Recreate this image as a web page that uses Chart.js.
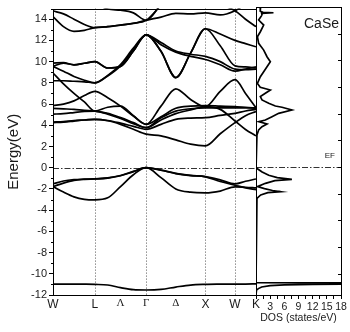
<!DOCTYPE html>
<html>
<head>
<meta charset="utf-8">
<script src="https://cdn.jsdelivr.net/npm/chart.js@4"></script>
<style>
html, body { margin: 0; padding: 0; background: #fff; }
#wrap { position: relative; width: 350px; height: 332px; }
#wrap canvas { position: absolute; left: 0; top: 0; }
</style>
</head>
<body>
<div id="wrap">
  <canvas id="bands" width="350" height="332"></canvas>
  <canvas id="dos" width="350" height="332"></canvas>
</div>
<script>
/* ─── k-path: W-L-Γ-X-W-K (path length, 2π/a) ─── */
const KPOS = [0, 0.177, 0.354, 0.530, 0.707, 0.924, 1.140, 1.357, 1.573,
              1.823, 2.073, 2.323, 2.573, 2.823, 3.073, 3.250, 3.427];
const SYM_POS = [0, 0.707, 1.140, 1.573, 2.073, 2.573, 3.073, 3.427];
const SYM_LABELS = ['W', 'L', 'Λ', 'Γ', 'Δ', 'X', 'W', 'K'];
const DOTTED_AT = [0.707, 1.573, 2.573, 3.073];

/* ─── bands (eV) at KPOS ─── */
const SE_S = [-10.97, -10.97, -10.97, -10.98, -11.0, -11.06, -11.31, -11.5, -11.53, -11.47, -11.25, -11.06, -11.0, -10.98, -10.97, -10.97, -10.95];
const VB1 = [-1.53, -1.25, -1.12, -1.08, -1.06, -0.96, -0.73, -0.35, 0, -0.22, -0.53, -0.72, -0.84, -1.15, -1.53, -1.28, -1.06];
const VB2 = [-1.78, -1.45, -1.2, -1.1, -1.06, -0.98, -0.76, -0.37, 0, -0.24, -0.55, -0.74, -0.86, -1.3, -1.65, -1.9, -2.07];
const VB3 = [-1.78, -2.3, -2.75, -2.98, -3.03, -2.84, -1.78, -0.66, 0, -0.94, -2.0, -2.31, -2.37, -2.2, -1.8, -1.84, -1.9];
const CB1 = [4.25, 4.3, 4.4, 4.5, 4.56, 4.43, 4.09, 3.62, 3.16, 3.0, 2.62, 2.22, 2.06, 3.2, 4.25, 4.9, 5.3];
const CB2 = [4.3, 4.35, 4.45, 4.5, 4.56, 4.45, 4.2, 3.9, 3.62, 4.09, 4.56, 4.68, 4.72, 4.93, 5.12, 5.35, 5.5];
const CB3 = [5.6, 5.55, 5.5, 5.4, 5.34, 5.12, 4.72, 4.25, 3.78, 4.71, 5.34, 5.56, 5.65, 5.65, 5.65, 5.65, 5.65];
const CB4 = [5.05, 5.1, 5.2, 5.3, 5.34, 5.05, 4.65, 4.15, 3.78, 4.5, 5.1, 5.45, 5.75, 5.5, 4.4, 3.6, 3.0];
const CB5 = [5.85, 6.0, 6.3, 6.8, 7.2, 6.6, 5.81, 4.87, 4.09, 5.81, 7.44, 6.44, 5.75, 7.2, 8.3, 7.0, 5.65];
const CB6 = [8.93, 7.9, 7.0, 6.2, 5.34, 5.7, 5.8, 4.9, 4.09, 4.8, 5.6, 5.8, 5.85, 5.8, 5.75, 5.7, 5.6];
const UP1 = [9.86, 9.9, 9.7, 9.85, 10.0, 9.4, 9.55, 11.0, 12.53, 10.97, 8.5, 10.8, 13.1, 11.5, 9.6, 9.5, 9.4];
const UP2 = [9.56, 9.1, 8.6, 8.25, 8.0, 8.7, 9.72, 11.27, 12.53, 11.8, 11.0, 10.7, 10.5, 10.0, 9.3, 9.25, 9.3];
const UP3 = [8.2, 8.2, 8.15, 8.1, 8.0, 8.65, 9.6, 11.15, 12.53, 11.6, 10.9, 10.5, 10.2, 9.7, 9.1, 9.3, 9.5];
const UP4 = [9.56, 9.85, 9.7, 9.85, 10.0, 9.4, 9.55, 11.0, 12.53, 10.97, 8.5, 10.8, 13.1, 12.6, 12.0, 11.7, 11.4];
const TOP1 = [14.78, 14.5, 14.0, 13.5, 13.2, 13.3, 13.45, 13.6, 13.9, 14.2, 14.55, 14.5, 14.6, 14.4, 14.8, 15.4, 15.9];
const TOP2 = [14.25, 13.3, 12.85, 12.95, 13.2, 13.3, 13.45, 13.62, 13.9, 15.3, 16.5, 16.5, 16.0, 15.4, 14.8, 14.0, 13.3];
const TOP3 = [16.8, 16.5, 16.2, 15.8, 15.5, 14.96, 14.85, 14.6, 13.9, 15.4, 16.8, 17, 16.6, 16.2, 16, 16, 16];
const BANDS = [SE_S, VB1, VB2, VB3, CB1, CB2, CB3, CB4, CB5, CB6, UP1, UP2, UP3, UP4, TOP1, TOP2, TOP3];

/* ─── DOS (states/eV) vs energy ─── */
const DOS_E = [15.2, 14.6, 14.5, 14.46, 14.4, 14.24, 13.78, 13.31, 12.68, 12.21, 11.59, 10.96, 10.34, 9.87, 9.4, 8.93,
               8.46, 7.84, 7.47, 7.22, 6.91, 6.6, 6.29, 5.97, 5.72, 5.6, 5.34, 5.03, 4.72, 4.4, 4.25, 4.03, 3.78, 3.47,
               3.0, 2.53, 2.06, 1.9, -0.05, -0.16, -0.47, -0.78, -1.0, -1.16, -1.28, -1.53, -1.84, -2.03, -2.2, -2.31,
               -2.4, -2.62, -2.94, -3.1, -10.85, -10.9, -10.97, -11.0, -11.05, -11.12, -11.25, -11.4, -11.55, -11.6, -12];
const DOS_V = [1.0, 0.9, 1.5, 3.7, 1.2, 1.27, 0.56, 1.63, 0.92, 0.3, 0.56, 1.63, 2.33, 3.04, 2.33, 1.63,
               0.92, 0.3, 0.9, 3.04, 1.98, 0.92, 1.27, 2.69, 4.1, 5.5, 7.6, 4.8, 3.39, 1.98, 0.56, 2.33, 1.27, 0.56,
               0.2, 0.05, 0, 0, 0, 0.3, 1.3, 2.7, 4.5, 7.6, 4.0, 2.0, 0.3, 1.8, 3.5, 5.2,
               2.5, 1.0, 0.2, 0, 0, 40, 40, 12, 6, 3, 1.2, 0.5, 0.1, 0, 0];

const FONT = 'Arial, "Liberation Sans", Helvetica, sans-serif';
const TXT = '#1a1a1a';

/* 邊框 */
function frame(ctx, a) {
    ctx.save();
    ctx.strokeStyle = '#000';
    ctx.lineWidth = 1;
    ctx.setLineDash([]);
    ctx.strokeRect(Math.round(a.left) + 0.5, Math.round(a.top) + 0.5,
                   Math.round(a.right - a.left), Math.round(a.bottom - a.top));
    ctx.restore();
}

/* E_F 點劃線 */
function fermiLine(ctx, a, y) {
    const py = Math.round(y.getPixelForValue(0)) + 0.5;
    ctx.save();
    ctx.strokeStyle = '#333';
    ctx.lineWidth = 1;
    ctx.setLineDash([6, 2, 1.5, 2]);
    ctx.beginPath(); ctx.moveTo(a.left, py); ctx.lineTo(a.right, py); ctx.stroke();
    ctx.restore();
}

const bandDecor = {
    id: 'bandDecor',
    beforeDatasetsDraw(chart) {
        const { ctx, chartArea: a, scales: { x, y } } = chart;
        ctx.save();
        ctx.strokeStyle = '#555';
        ctx.lineWidth = 1;
        ctx.setLineDash([1, 2]);
        DOTTED_AT.forEach(k => {
            const px = Math.round(x.getPixelForValue(k)) + 0.5;
            ctx.beginPath(); ctx.moveTo(px, a.top); ctx.lineTo(px, a.bottom); ctx.stroke();
        });
        ctx.restore();
        fermiLine(ctx, a, y);
    },
    afterDraw(chart) {
        const { ctx, chartArea: a, scales: { y } } = chart;
        frame(ctx, a);
        /* minor ticks */
        ctx.save();
        ctx.strokeStyle = '#000';
        ctx.lineWidth = 1;
        for (let v = -11; v <= 15; v += 2) {
            const py = Math.round(y.getPixelForValue(v)) + 0.5;
            ctx.beginPath(); ctx.moveTo(a.left - 2, py); ctx.lineTo(a.left, py); ctx.stroke();
        }
        ctx.restore();
    },
};

const dosDecor = {
    id: 'dosDecor',
    beforeDatasetsDraw(chart) {
        const { ctx, chartArea: a, scales: { y } } = chart;
        fermiLine(ctx, a, y);
    },
    afterDraw(chart) {
        const { ctx, chartArea: a, scales: { y } } = chart;
        frame(ctx, a);
        ctx.save();
        ctx.strokeStyle = '#000';
        ctx.lineWidth = 1;
        for (let v = -10; v <= 15; v += 2.5) {
            const py = Math.round(y.getPixelForValue(v)) + 0.5;
            ctx.beginPath(); ctx.moveTo(a.right - 3, py); ctx.lineTo(a.right, py); ctx.stroke();
        }
        ctx.fillStyle = TXT;
        ctx.textAlign = 'right';
        ctx.textBaseline = 'alphabetic';
        ctx.font = '14px ' + FONT;
        ctx.fillText('CaSe', a.right - 2, 28);
        ctx.font = '8px ' + FONT;
        ctx.fillText('EF', a.right - 6, y.getPixelForValue(0) - 9);
        ctx.restore();
    },
};

new Chart(document.getElementById('bands'), {
    type: 'line',
    data: {
        datasets: BANDS.map(b => ({
            data: KPOS.map((k, i) => ({ x: k, y: b[i] })),
            borderColor: '#000',
            borderWidth: 1.7,
            pointRadius: 0,
            fill: false,
            cubicInterpolationMode: 'monotone',
        })),
    },
    options: {
        responsive: false,
        animation: false,
        events: [],
        layout: { padding: { left: 0, right: 94, top: 7, bottom: 0 } },
        plugins: { legend: { display: false }, tooltip: { enabled: false } },
        scales: {
            x: {
                type: 'linear', min: 0, max: 3.427,
                afterBuildTicks: s => { s.ticks = SYM_POS.map(v => ({ value: v })); },
                afterFit: s => { s.height = 37; },
                grid: { display: false, drawTicks: false, tickLength: 0 },
                border: { display: false },
                ticks: {
                    autoSkip: false, maxRotation: 0, padding: 2, color: TXT,
                    callback: (v, i) => SYM_LABELS[i],
                    font: c => ('ΛΓΔ'.includes(SYM_LABELS[c.index]))
                        ? { family: '"Liberation Serif", "DejaVu Serif", serif', size: 11 }
                        : { family: FONT, size: 12 },
                },
            },
            y: {
                min: -12, max: 15,
                afterFit: s => { s.width = 53; },
                ticks: {
                    stepSize: 1, autoSkip: false, padding: 2, color: TXT,
                    font: { family: FONT, size: 11 },
                    callback: v => (v % 2 === 0 ? v : ''),
                },
                grid: {
                    drawOnChartArea: false, tickLength: 4,
                    color: c => (c.tick && c.tick.value % 2 === 0 ? '#000' : 'rgba(0,0,0,0)'),
                },
                border: { display: false },
                title: {
                    display: true, text: 'Energy(eV)', color: TXT,
                    font: { family: FONT, size: 15 }, padding: { top: 5, bottom: 0 },
                },
            },
        },
    },
    plugins: [bandDecor],
});

new Chart(document.getElementById('dos'), {
    type: 'line',
    data: {
        datasets: [{
            data: DOS_E.map((e, i) => ({ x: DOS_V[i], y: e })),
            borderColor: '#000',
            borderWidth: 1.7,
            pointRadius: 0,
            fill: false,
            tension: 0,
        }],
    },
    options: {
        responsive: false,
        animation: false,
        events: [],
        layout: { padding: { left: 256, right: 9, top: 7, bottom: 0 } },
        plugins: { legend: { display: false }, tooltip: { enabled: false } },
        scales: {
            x: {
                type: 'linear', min: 0, max: 18,
                afterFit: s => { s.height = 37; },
                ticks: {
                    stepSize: 1.5, autoSkip: false, maxRotation: 0, padding: 2, color: TXT,
                    font: { family: FONT, size: 10.5 },
                    callback: v => (v > 0 && v % 3 === 0 ? v : ''),
                },
                grid: { drawOnChartArea: false, tickLength: 4, color: '#000' },
                border: { display: false },
                title: {
                    display: true, text: 'DOS (states/eV)', color: TXT,
                    font: { family: FONT, size: 10.5 }, padding: { top: 0, bottom: 8 },
                },
            },
            y: { type: 'linear', min: -12, max: 15, display: false },
        },
    },
    plugins: [dosDecor],
});
</script>
</body>
</html>
